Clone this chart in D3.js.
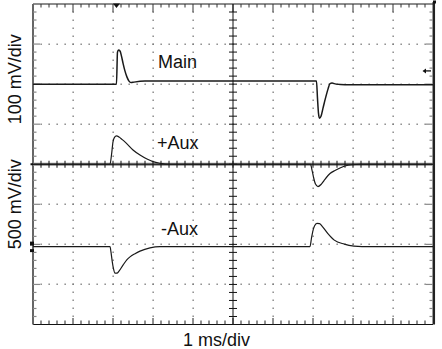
<!DOCTYPE html>
<html>
<head>
<meta charset="utf-8">
<script src="https://cdn.jsdelivr.net/npm/d3@7/dist/d3.min.js"></script>
<style>
  html, body { margin: 0; padding: 0; background: #fff; }
  svg { display: block; }
  text { font-family: "Liberation Sans", Arial, Helvetica, sans-serif; fill: #111; }
</style>
</head>
<body>
<svg id="scope" width="442" height="349"></svg>
<script>
// ---- Horizontal: time in ms (1 ms/div, 10 divisions) ----
const timeDomain = [0, 10];
const vertDivs = [-4, 4];          // 8 vertical divisions

// ---- Main output, 100 mV/div ----
const mainTime = [0, 2.087, 2.112, 2.137, 2.175, 2.212, 2.25, 2.3, 2.35, 2.4, 2.45, 2.525, 2.8,
                  7.087, 7.112, 7.137, 7.162, 7.2, 7.25, 7.312, 7.375, 7.425, 7.475, 7.575, 7.8, 10];
const mainMv   = [0, 0, 80, 85, 82.5, 70, 52.5, 32.5, 17.5, 7.5, 3.75, 5, 7.5,
                  7.5, -35, -72.5, -85, -80, -60, -35, -12.5, 1.25, 2.5, 0, -1.25, -1.25];

// ---- +Aux output, 500 mV/div ----
const posAuxTime = [0, 1.925, 1.962, 2.0, 2.037, 2.087, 2.15, 2.225, 2.337, 2.5, 2.675, 2.85, 3.0, 3.175, 3.425,
                    6.937, 6.975, 7.012, 7.062, 7.125, 7.2, 7.275, 7.425, 7.55, 7.675, 7.8, 7.975, 8.175, 10];
const posAuxMv   = [0, 0, 115, 280, 335, 353, 340, 310, 260, 178, 115, 65, 32, 12, 0,
                    0, -72, -160, -247, -278, -253, -203, -116, -78, -47, -22, -6, 0, 0];

// ---- -Aux output, 500 mV/div ----
const negAuxTime = [0, 1.925, 1.95, 1.982, 2.012, 2.05, 2.1, 2.15, 2.25, 2.35, 2.425, 2.55, 2.675, 2.925, 3.175,
                    6.925, 6.962, 6.992, 7.037, 7.1, 7.162, 7.225, 7.367, 7.532, 7.782, 8.025, 8.225, 10];
const negAuxMv   = [0, 0, -69, -190, -275, -331, -331, -306, -231, -162, -128, -88, -56, -15, 0,
                    0, 106, 185, 256, 290, 288, 256, 165, 81, 31, 6, 0, 0];

// ---- Channel settings: mV/div and ground position (divisions from centre) ----
const channelNames  = ["Main", "+Aux", "-Aux"];
const channelScale  = [100, 500, 500];
const channelGround = [2.0, 0.0, -2.056];

// ---- Axis captions ----
const xCaption = "1 ms/div";
const yCaptions = ["100 mV/div", "500 mV/div"];

const svg = d3.select("#scope");
const plotL = 33, plotR = 433, plotT = 4, plotB = 324.5;

const x = d3.scaleLinear().domain(timeDomain).range([plotL, plotR]);
const y = d3.scaleLinear().domain(vertDivs).range([plotB, plotT]);

const minorX = d3.range(0, 10.0001, 0.2);
const minorY = d3.range(-4, 4.0001, 0.2);
const isMajor = v => Math.abs(v - Math.round(v)) < 1e-6;

// ---- Dotted graticule (pixel-snapped dots every minor step) ----
const dots = svg.append("g").attr("fill", "#7a7a7a");
const dot = (px, py) => dots.append("rect")
  .attr("x", Math.round(px) - 0.5).attr("y", Math.round(py) - 0.5)
  .attr("width", 1.3).attr("height", 1.5);
[-3, -2, -1, 1, 2, 3].forEach(dv => minorX.slice(1, -1).forEach(t => dot(x(t), y(dv))));
[1, 2, 3, 4, 6, 7, 8, 9].forEach(t => minorY.slice(1, -1).forEach(dv => dot(x(t), y(dv))));

// ---- Frame ----
const frame = svg.append("g");
// top edge (grey) with downward ticks
frame.append("line").attr("x1", plotL).attr("x2", plotR).attr("y1", plotT).attr("y2", plotT)
  .attr("stroke", "#8c8c8c").attr("stroke-width", 2);
minorX.slice(1, -1).forEach(t => {
  frame.append("line").attr("x1", x(t)).attr("x2", x(t)).attr("y1", plotT)
    .attr("y2", plotT + (isMajor(t) ? 8 : 3.5)).attr("stroke", "#333").attr("stroke-width", 1);
});
// bottom edge with upward ticks
frame.append("line").attr("x1", plotL).attr("x2", plotR).attr("y1", plotB).attr("y2", plotB)
  .attr("stroke", "#111").attr("stroke-width", 1);
minorX.slice(1, -1).forEach(t => {
  frame.append("line").attr("x1", x(t)).attr("x2", x(t)).attr("y1", plotB)
    .attr("y2", plotB - (isMajor(t) ? 6.5 : 4)).attr("stroke", "#222").attr("stroke-width", 1);
});
// left edge with rightward ticks
frame.append("line").attr("x1", plotL).attr("x2", plotL).attr("y1", plotT).attr("y2", plotB)
  .attr("stroke", "#666").attr("stroke-width", 2);
minorY.slice(1, -1).forEach(dv => {
  frame.append("line").attr("x1", plotL).attr("x2", plotL + (isMajor(dv) ? 7 : 3.5))
    .attr("y1", y(dv)).attr("y2", y(dv)).attr("stroke", "#888").attr("stroke-width", 1.2);
});
// right edge with leftward ticks
frame.append("line").attr("x1", plotR + 0.8).attr("x2", plotR + 0.8).attr("y1", plotT - 2).attr("y2", plotB)
  .attr("stroke", "#222").attr("stroke-width", 2.5);
minorY.slice(1, -1).forEach(dv => {
  frame.append("line").attr("x1", plotR).attr("x2", plotR - (isMajor(dv) ? 7 : 3.5))
    .attr("y1", y(dv)).attr("y2", y(dv)).attr("stroke", "#888").attr("stroke-width", 1.2);
});
frame.append("rect").attr("x", plotR).attr("y", 0.5).attr("width", 3).attr("height", 3).attr("fill", "#111");

// ---- Centre cross-hair axes ----
const centre = svg.append("g");
centre.append("line").attr("x1", plotL).attr("x2", plotR).attr("y1", y(0)).attr("y2", y(0))
  .attr("stroke", "#8a8a8a").attr("stroke-width", 3);
centre.append("line").attr("x1", plotL).attr("x2", plotR).attr("y1", y(0)).attr("y2", y(0))
  .attr("stroke", "#111").attr("stroke-width", 1);
minorX.slice(1, -1).forEach(t => {
  centre.append("line").attr("x1", x(t)).attr("x2", x(t)).attr("y1", y(0) - 3.5).attr("y2", y(0) + 3.5)
    .attr("stroke", "#111").attr("stroke-width", 1);
});
centre.append("line").attr("x1", x(5)).attr("x2", x(5)).attr("y1", plotT).attr("y2", plotB)
  .attr("stroke", "#111").attr("stroke-width", 1);
minorY.slice(1, -1).forEach(dv => {
  centre.append("line").attr("x1", x(5) - 4).attr("x2", x(5) + 4).attr("y1", y(dv)).attr("y2", y(dv))
    .attr("stroke", "#111").attr("stroke-width", 1);
});

// ---- Traces ----
const traces = [
  { t: mainTime,   v: mainMv,   ch: 0, w: 1.5 },
  { t: posAuxTime, v: posAuxMv, ch: 1, w: 1.2 },
  { t: negAuxTime, v: negAuxMv, ch: 2, w: 1.2 }
];
traces.forEach(tr => {
  const pts = tr.t.map((t, i) => [t, tr.v[i]]);
  const line = d3.line()
    .x(d => x(d[0]))
    .y(d => y(channelGround[tr.ch] + d[1] / channelScale[tr.ch]))
    .curve(d3.curveMonotoneX);
  svg.append("path").datum(pts).attr("d", line)
    .attr("fill", "none").attr("stroke", "#1a1a1a").attr("stroke-width", tr.w)
    .attr("stroke-linejoin", "round");
});

// ---- Channel ground markers on the left edge ----
const markers = svg.append("g").attr("fill", "#111");
markers.append("rect").attr("x", plotL - 2.5).attr("y", y(channelGround[1]) - 1).attr("width", 2.5).attr("height", 2);
markers.append("rect").attr("x", plotL - 3).attr("y", y(channelGround[2]) - 5).attr("width", 4).attr("height", 4);
markers.append("rect").attr("x", plotL - 3).attr("y", y(channelGround[2]) + 2.5).attr("width", 4).attr("height", 3);

// trigger-position marker at the top
const trigT = mainTime[1];
svg.append("path")
  .attr("d", `M${x(trigT) - 3.5},${plotT - 0.5} L${x(trigT) + 3.5},${plotT - 0.5} L${x(trigT)},${plotT + 4} Z`)
  .attr("fill", "#111");

// trigger-level arrow on the right edge
const trigLevel = channelGround[0] + 0.33;
svg.append("path")
  .attr("d", `M${plotR - 2},${y(trigLevel)} L${plotR - 9},${y(trigLevel)}`)
  .attr("stroke", "#111").attr("stroke-width", 1.3);
svg.append("path")
  .attr("d", `M${plotR - 10.5},${y(trigLevel)} L${plotR - 7},${y(trigLevel) - 2.5} L${plotR - 7},${y(trigLevel) + 2.5} Z`)
  .attr("fill", "#111");

// ---- Labels ----
const labelPos = [[3.125, 2.406], [3.1, 0.38], [3.2, -1.77]]; // [time, div] of each label's baseline start
channelNames.forEach((name, i) => {
  svg.append("text").attr("x", x(labelPos[i][0])).attr("y", y(labelPos[i][1]))
    .attr("font-size", 18).text(name);
});

svg.append("text").attr("x", 216.5).attr("y", 346).attr("text-anchor", "middle")
  .attr("font-size", 18).text(xCaption);

[[y(2.12), yCaptions[0]], [y(-1.0), yCaptions[1]]].forEach(([cy, label]) => {
  svg.append("text")
    .attr("transform", `translate(21,${cy}) rotate(-90)`)
    .attr("text-anchor", "middle").attr("font-size", 18).text(label);
});
</script>
</body>
</html>
